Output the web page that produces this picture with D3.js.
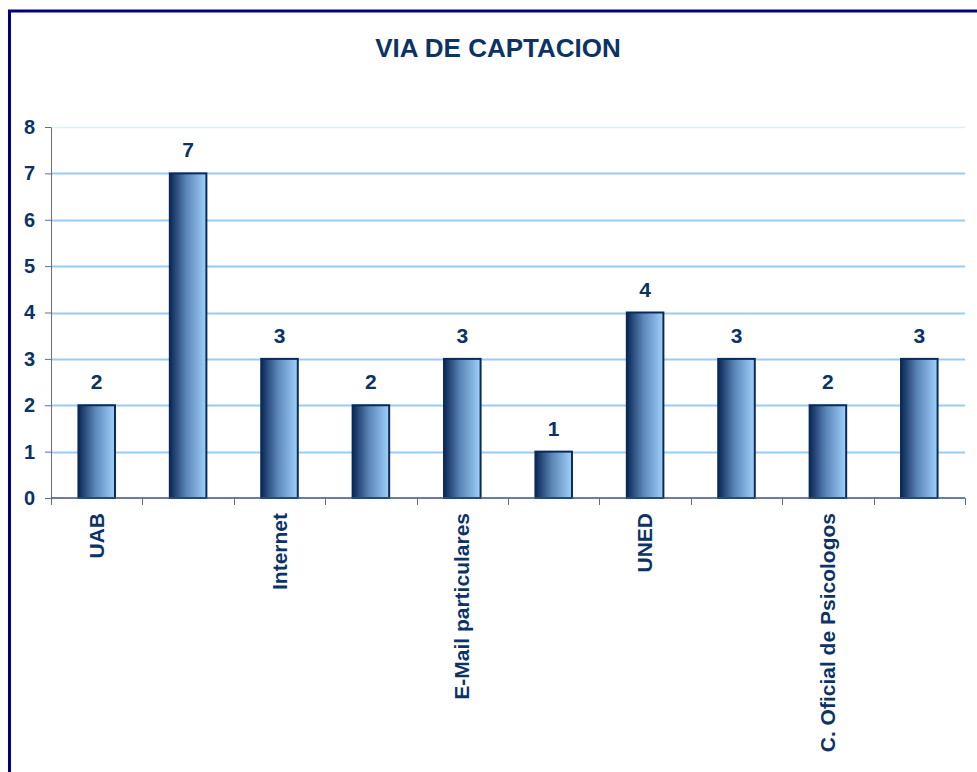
<!DOCTYPE html>
<html lang="es">

<head>
    <meta charset="UTF-8">
    <title>VIA DE CAPTACION</title>
    <script src="https://cdn.jsdelivr.net/npm/d3@7"></script>
    <style>
        * {
            margin: 0;
            padding: 0;
        }

        body {
            background: #fff;
        }

        text {
            font-family: Arial, "Liberation Sans", sans-serif;
            font-weight: bold;
            fill: #0b3366;
        }
    </style>
</head>

<body>
    <script>
        // datos
        const categories = ["UAB", "", "Internet", "", "E-Mail particulares", "", "UNED", "", "C. Oficial de Psicologos", ""];
        const values = [2, 7, 3, 2, 3, 1, 4, 3, 2, 3];
        const yTicks = [0, 1, 2, 3, 4, 5, 6, 7, 8];

        const width = 977;
        const height = 772;
        const margin = { top: 127, left: 51, right: 12, bottom: 274 };

        const svg = d3.select("body").append("svg")
            .attr("width", width)
            .attr("height", height);

        // marco
        svg.append("rect")
            .attr("x", 9.5)
            .attr("y", 11)
            .attr("width", width + 20)
            .attr("height", height + 20)
            .attr("fill", "none")
            .attr("stroke", "#000080")
            .attr("stroke-width", 3);

        svg.append("text")
            .attr("x", 498)
            .attr("y", 57)
            .attr("text-anchor", "middle")
            .attr("font-size", 26)
            .text("VIA DE CAPTACION");

        const x = d3.scaleBand()
            .domain(d3.range(values.length))
            .range([margin.left, width - margin.right]);

        const y = d3.scaleLinear()
            .domain([0, 8])
            .range([height - margin.bottom, margin.top]);

        // gradiente de barras
        const grad = svg.append("defs").append("linearGradient")
            .attr("id", "barGrad")
            .attr("x1", "0%").attr("x2", "100%")
            .attr("y1", "0%").attr("y2", "0%");
        grad.append("stop").attr("offset", "0%").attr("stop-color", "#0a2856");
        grad.append("stop").attr("offset", "45%").attr("stop-color", "#5b86b8");
        grad.append("stop").attr("offset", "100%").attr("stop-color", "#9fd0fb");

        // rejilla
        svg.append("g")
            .selectAll("line")
            .data(yTicks.filter(d => d > 0))
            .join("line")
            .attr("x1", margin.left)
            .attr("x2", width - margin.right)
            .attr("y1", d => Math.round(y(d)) + 0.5)
            .attr("y2", d => Math.round(y(d)) + 0.5)
            .attr("stroke", d => d === 8 ? "#ddeeff" : "#99ccf5")
            .attr("stroke-width", d => d === 8 ? 1.5 : 2);

        // barras
        const bw = x.bandwidth() * 0.4;
        svg.append("g")
            .selectAll("rect")
            .data(values)
            .join("rect")
            .attr("x", (d, i) => x(i) + (x.bandwidth() - bw) / 2)
            .attr("y", d => y(d))
            .attr("width", bw)
            .attr("height", d => y(0) - y(d))
            .attr("fill", "url(#barGrad)")
            .attr("stroke", "#0b2a58")
            .attr("stroke-width", 2);

        // etiquetas de valor
        svg.append("g")
            .selectAll("text")
            .data(values)
            .join("text")
            .attr("x", (d, i) => x(i) + x.bandwidth() / 2)
            .attr("y", d => y(d) - 16)
            .attr("text-anchor", "middle")
            .attr("font-size", 21)
            .text(d => d);

        // eje Y
        const yAxis = svg.append("g")
            .attr("transform", `translate(${margin.left},0)`)
            .call(d3.axisLeft(y).tickValues(yTicks).tickSize(6).tickSizeOuter(0).tickPadding(10));
        yAxis.select(".domain").attr("stroke", "#5a7090");
        yAxis.selectAll(".tick line").attr("stroke", "#5a7090");
        yAxis.selectAll(".tick text").attr("font-size", 20).attr("fill", "#0b3366");

        // eje X
        const xAxis = svg.append("g")
            .attr("transform", `translate(0,${y(0)})`);
        xAxis.append("line")
            .attr("x1", margin.left)
            .attr("x2", width - margin.right)
            .attr("stroke", "#39557a")
            .attr("stroke-width", 1.5);
        xAxis.selectAll(".sep")
            .data(d3.range(values.length + 1))
            .join("line")
            .attr("class", "sep")
            .attr("x1", i => Math.round(margin.left + i * x.step()) + 0.5)
            .attr("x2", i => Math.round(margin.left + i * x.step()) + 0.5)
            .attr("y1", 0)
            .attr("y2", 7)
            .attr("stroke", "#5a7090");

        xAxis.selectAll(".lbl")
            .data(categories)
            .join("text")
            .attr("class", "lbl")
            .attr("transform", (d, i) => `translate(${x(i) + x.bandwidth() / 2 + 7},15) rotate(-90)`)
            .attr("text-anchor", "end")
            .attr("font-size", 21)
            .text(d => d);
    </script>
</body>

</html>
